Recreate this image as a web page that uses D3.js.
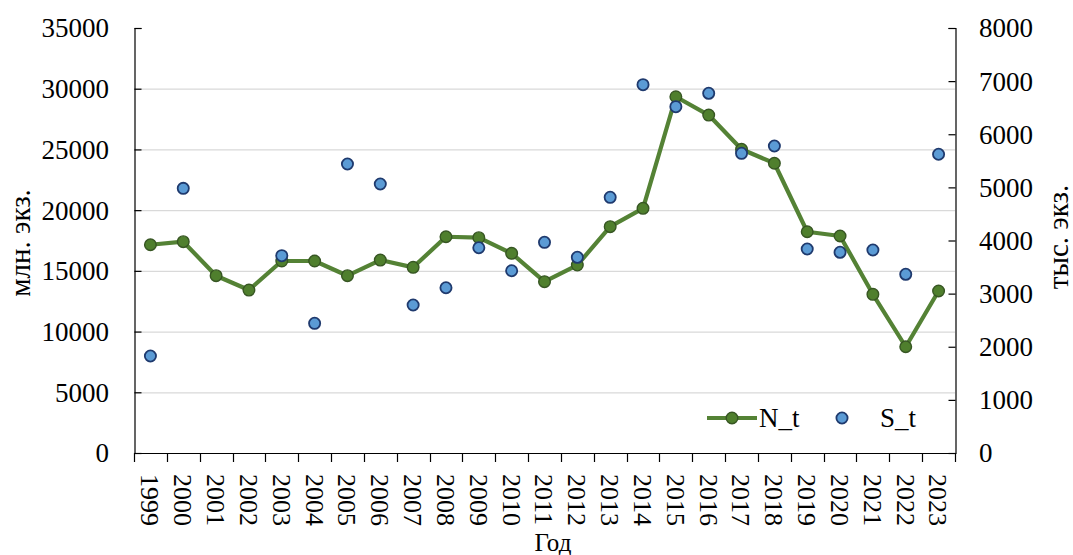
<!DOCTYPE html>
<html>
<head>
<meta charset="utf-8">
<script src="https://cdn.jsdelivr.net/npm/d3@7"></script>
<style>
  body { margin:0; background:#fff; }
  svg { display:block; font-family:"Liberation Serif","Times New Roman",serif; }
</style>
</head>
<body>
<div id="chart"></div>
<script>
// years on the category axis
const years = [1999,2000,2001,2002,2003,2004,2005,2006,2007,2008,2009,2010,2011,
  2012,2013,2014,2015,2016,2017,2018,2019,2020,2021,2022,2023];

// N_t, left axis (млн. экз.)
const nValues = [17150,17400,14600,13420,15810,15810,14600,15890,15290,17810,17730,16440,14110,
  15480,18640,20150,29340,27830,25010,23860,18220,17870,13070,8750,13340];

// S_t, right axis (тыс. экз.); no points for 2001 and 2002
const sValues = [1826,4982,null,null,3714,2441,5440,5064,2786,3111,3864,3431,3966,
  3684,4813,6933,6519,6771,5641,5779,3840,3778,3821,3364,5623];

const leftTicks = [0,5000,10000,15000,20000,25000,30000,35000];
const rightTicks = [0,1000,2000,3000,4000,5000,6000,7000,8000];

const W = 1073, H = 555;
const plot = { left: 134, right: 955, top: 28, bottom: 453 };

const svg = d3.select("#chart").append("svg")
  .attr("width", W).attr("height", H);

const x = d3.scaleBand().domain(years).range([plot.left, plot.right]);
const yL = d3.scaleLinear().domain([0, 35000]).range([plot.bottom, plot.top]);
const yR = d3.scaleLinear().domain([0, 8000]).range([plot.bottom, plot.top]);

// gridlines (left axis)
svg.append("g")
  .selectAll("line")
  .data(leftTicks.filter(d => d > 0 && d < 35000))
  .join("line")
  .attr("x1", plot.left).attr("x2", plot.right)
  .attr("y1", d => yL(d) + 0.5).attr("y2", d => yL(d) + 0.5)
  .attr("stroke", "#d9d9d9").attr("stroke-width", 1.3);

// left axis
const gL = svg.append("g")
  .attr("transform", `translate(${plot.left + 0.5},0)`)
  .call(d3.axisRight(yL).tickValues(leftTicks).tickSize(7).tickFormat(() => ""));
gL.select(".domain").attr("stroke", "#000").attr("stroke-width", 1.2);
gL.selectAll(".tick line").attr("stroke", "#000").attr("stroke-width", 1.2);

svg.append("g")
  .selectAll("text")
  .data(leftTicks)
  .join("text")
  .attr("x", 109).attr("y", d => yL(d))
  .attr("dy", "0.35em")
  .attr("text-anchor", "end")
  .attr("font-size", 27)
  .attr("fill", "#000")
  .text(d => d);

// right axis
const gR = svg.append("g")
  .attr("transform", `translate(${plot.right + 0.5},0)`)
  .call(d3.axisLeft(yR).tickValues(rightTicks).tickSize(7).tickFormat(() => ""));
gR.select(".domain").attr("stroke", "#000").attr("stroke-width", 1.2);
gR.selectAll(".tick line").attr("stroke", "#000").attr("stroke-width", 1.2);

svg.append("g")
  .selectAll("text")
  .data(rightTicks)
  .join("text")
  .attr("x", 979).attr("y", d => yR(d))
  .attr("dy", "0.35em")
  .attr("text-anchor", "start")
  .attr("font-size", 27)
  .attr("fill", "#000")
  .text(d => d);

// bottom axis, ticks between categories
const bounds = years.map(d => x(d)).concat([plot.right]);
svg.append("line")
  .attr("x1", plot.left).attr("x2", plot.right + 1)
  .attr("y1", plot.bottom + 0.5).attr("y2", plot.bottom + 0.5)
  .attr("stroke", "#000").attr("stroke-width", 1.2);
svg.append("g")
  .selectAll("line")
  .data(bounds)
  .join("line")
  .attr("x1", d => Math.round(d) + 0.5).attr("x2", d => Math.round(d) + 0.5)
  .attr("y1", plot.bottom).attr("y2", plot.bottom + 9)
  .attr("stroke", "#000").attr("stroke-width", 1.2);

svg.append("g")
  .selectAll("text")
  .data(years)
  .join("text")
  .attr("transform", d => `translate(${x(d) + x.bandwidth() / 2},474) rotate(90)`)
  .attr("dy", "0.35em")
  .attr("font-size", 26)
  .attr("fill", "#000")
  .text(d => d);

// axis titles
svg.append("text")
  .attr("transform", "translate(20,243) rotate(-90)")
  .attr("dy", "0.35em")
  .attr("text-anchor", "middle")
  .attr("font-size", 29)
  .text("млн. экз.");

svg.append("text")
  .attr("transform", "translate(1058,237) rotate(-90)")
  .attr("dy", "0.35em")
  .attr("text-anchor", "middle")
  .attr("font-size", 29)
  .text("тыс. экз.");

svg.append("text")
  .attr("x", 553).attr("y", 551)
  .attr("text-anchor", "middle")
  .attr("font-size", 25)
  .text("Год");

// N_t line + markers
const green = "#548235", greenFill = "#4f7f2d", greenStroke = "#375623";
const blueFill = "#5b9bd5", blueStroke = "#1f3a6e";
const cx = d => x(d) + x.bandwidth() / 2;

const nData = years.map((yr, i) => ({ yr, v: nValues[i] }));
svg.append("path")
  .datum(nData)
  .attr("fill", "none")
  .attr("stroke", green)
  .attr("stroke-width", 4.2)
  .attr("stroke-linejoin", "round")
  .attr("d", d3.line().x(d => cx(d.yr)).y(d => yL(d.v)));

svg.append("g")
  .selectAll("circle")
  .data(nData)
  .join("circle")
  .attr("cx", d => cx(d.yr)).attr("cy", d => yL(d.v))
  .attr("r", 5.8)
  .attr("fill", greenFill)
  .attr("stroke", greenStroke)
  .attr("stroke-width", 1.4);

// S_t markers
const sData = years.map((yr, i) => ({ yr, v: sValues[i] })).filter(d => d.v != null);
svg.append("g")
  .selectAll("circle")
  .data(sData)
  .join("circle")
  .attr("cx", d => cx(d.yr)).attr("cy", d => yR(d.v))
  .attr("r", 5.6)
  .attr("fill", blueFill)
  .attr("stroke", blueStroke)
  .attr("stroke-width", 1.8);

// legend
const lg = svg.append("g").attr("transform", "translate(0,418)");
lg.append("line")
  .attr("x1", 707).attr("x2", 757).attr("y1", 0).attr("y2", 0)
  .attr("stroke", green).attr("stroke-width", 4.2);
lg.append("circle")
  .attr("cx", 732).attr("cy", 0).attr("r", 5.8)
  .attr("fill", greenFill).attr("stroke", greenStroke).attr("stroke-width", 1.4);
lg.append("text")
  .attr("x", 759).attr("y", 0).attr("dy", "0.35em")
  .attr("font-size", 27).text("N_t");
lg.append("circle")
  .attr("cx", 842).attr("cy", 0).attr("r", 5.6)
  .attr("fill", blueFill).attr("stroke", blueStroke).attr("stroke-width", 1.8);
lg.append("text")
  .attr("x", 880).attr("y", 0).attr("dy", "0.35em")
  .attr("font-size", 27).text("S_t");
</script>
</body>
</html>
